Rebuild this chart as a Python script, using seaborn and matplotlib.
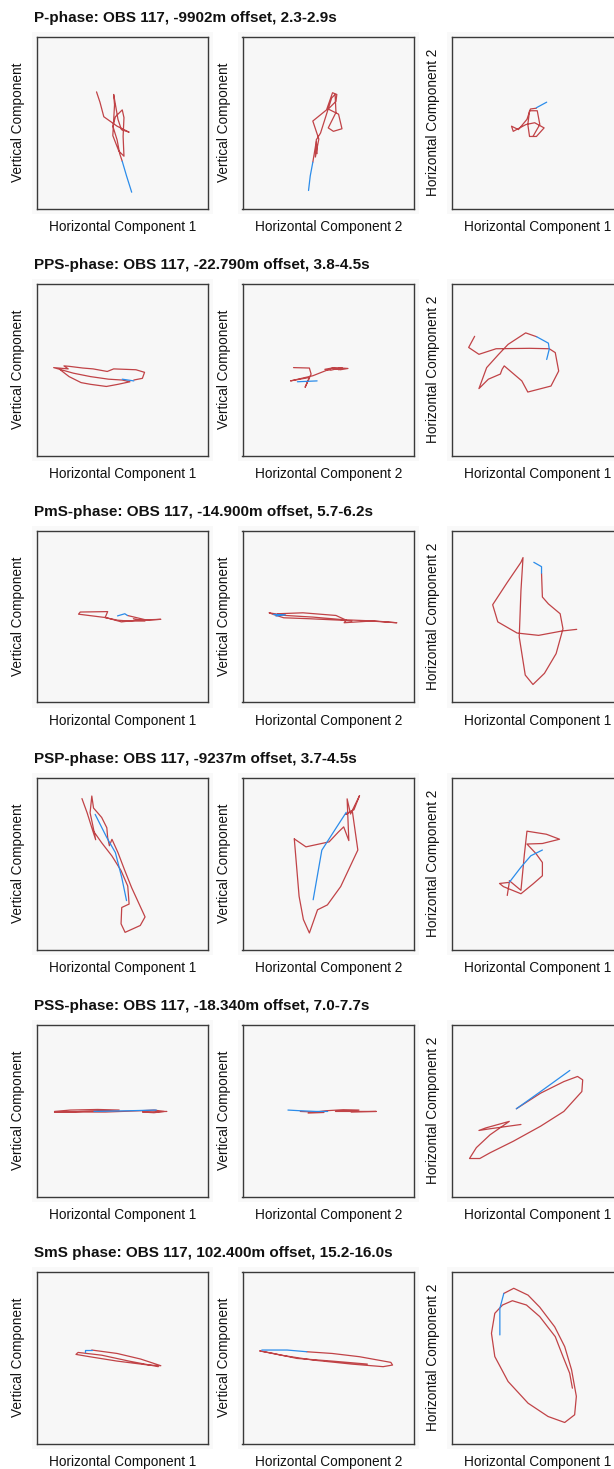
import matplotlib
matplotlib.use("Agg")
import matplotlib.pyplot as plt
import pandas as pd
import seaborn as sns
from matplotlib.patches import Rectangle

# particle motion traces, normalised amplitude (-100..100)
# each panel: red = analysis window, blue = onset segment

# P-phase
p_zh1_red = [(-30, 36), (-26, 24), (-21.5, 7), (-6, -4), (8, -11), (-1, -8), (-5, 4), (-10, 33),
             (-9, 21), (-11, -15), (-4, -33), (2, -39), (1, -16), (2, 6), (0, 15), (-8, 7),
             (-11, -4), (-6, -20), (-3, -36), (0, -45)]
p_zh1_blue = [(0, -45), (5, -62), (11, -81)]
p_zh2_red = [(-18, -46), (-14, -22), (-15, -40), (-11, -19), (-18, 2), (-2, 15), (5, 35), (10, 33),
             (9, 25), (0, 16), (12, 10), (16, -7), (6, -10), (0, -6), (9, 12), (8, 33), (4, 29),
             (-9, -12), (-14, -20), (-13, -36)]
p_zh2_blue = [(-23, -79), (-21, -62), (-18, -46)]
p_h1h2_red = [(-1, 17), (-8, 16), (-12, 4), (-22, -8), (-30, -4), (-28, -10), (-13, -2), (-3, 0),
              (8, -6), (-1, -16), (-9, -16), (-11, -2), (-9, 14), (0, 14), (3, -2), (-5, -16)]
p_h1h2_blue = [(11, 24), (-1, 17.5)]

# PPS-phase
pps_zh1_red = [(13.5, -12), (23.5, -10), (26, -3), (16, 0), (-10, 1), (-17.5, -2), (-34, 1), (-46, 2),
               (-62, 4), (-68, 4.5), (-63, 1), (-80, 2.5), (-57, -4), (-37, -8), (-16, -11), (0, -12),
               (9, -14), (-5, -17), (-18.5, -19.5), (-37, -17), (-48, -15), (-62, -8), (-73, 0.5)]
pps_zh1_blue = [(0, -11), (6.6, -12), (13.5, -13)]
pps_zh2_red = [(-40.5, 2.5), (-22, 2), (-20, -5), (-27, -20.5), (-22, -9), (-44, -13), (-18, -7),
               (-4, -1.5), (5, 2), (14, 0), (23, 1.5), (7, 2.5), (-4, 0.5), (3, -0.5), (16, 2.5), (12, 0)]
pps_zh2_blue = [(-36, -14), (-13, -13)]
pps_h1h2_red = [(-73, 39), (-80, 26), (-68, 18), (-48, 24.5), (-9, 25), (14, 24.5), (21, 20), (25, -1.5),
                (16, -19), (-11, -26), (-18, -13), (-38.5, 4.5), (-41, 0.5), (-43, -5), (-57, -11),
                (-68, -22), (-59, 2.5), (-45, 18), (-34, 29.6), (-13.5, 43), (-0.7, 38.5)]
pps_h1h2_blue = [(-0.7, 38.5), (13, 31), (14, 24), (11, 12)]

# PmS-phase
pms_zh1_red = [(6, 1.5), (29, -4), (45, -3), (17, -4), (-1, -6), (-19, -1), (-51, 3), (-49, 5.5),
               (-17, 6), (-20, -1), (-5.5, -4), (8, -5), (26.5, -5), (13, -2.3)]
pms_zh1_blue = [(-5.5, 1), (3, 3.5), (6, 1.5)]
pms_zh2_red = [(-59, 3.5), (-29.5, 4.6), (9, 1.5), (21, -4), (18.5, -7), (50, -5), (80, -7), (55, -5),
               (18.5, -3.5), (-18, -0.4), (-50, 1.5), (-69, 4.6), (-64, 2.7), (-52, -1.2), (-22.5, -2.3),
               (14, -4), (27.5, -5)]
pms_zh2_blue = [(-64, 2.7), (-50, 2.3), (-61, 0.8)]
pms_h1h2_red = [(5, 50.7), (6, 23), (13, 15), (26.7, 3.5), (30, -14), (22, -43), (8.4, -66), (-5, -79),
                (-14, -68), (-21, -23.6), (-19, 30.6), (-16.6, 69), (-19, 63.5), (-35, 40), (-52, 14),
                (-46, -6), (-23.5, -19), (1.6, -21.7), (29, -16.6), (46, -14.7)]
pms_h1h2_blue = [(-4, 63.5), (5, 58.4), (5, 50.7)]

# PSP-phase
psp_zh1_red = [(-47, 76), (-41, 59.5), (-35.5, 42), (-31, 28), (-34, 43), (-37.5, 59.5), (-35.5, 79),
               (-33.5, 65), (-24, 54), (-18, 42), (-17, 30.5), (-15, 21), (-12, 28.5), (-5, 13), (3, -8),
               (11, -28), (26.6, -62), (21, -72), (3.3, -80), (-1.4, -70), (-0.6, -51), (8, -47),
               (6.4, -26), (-1.4, -8), (-12, 9), (-24, 24.5), (-33.5, 38)]
psp_zh1_blue = [(-31.6, 57.6), (-18, 30.5), (-8, 13), (-0.6, -16), (5, -43)]
psp_zh2_red = [(-39.6, 29), (-26, 19.7), (1, 25.5), (11.8, 37), (18, 43), (24, 27), (22, 75.7), (26, 58),
               (36.5, 79.5), (30, 63), (20, 57.5), (28, 62), (34.5, 16), (14.5, -26.6), (-1, -48),
               (-12.5, -53.7), (-22, -80.7), (-29, -65), (-34, -38), (-39.6, 29)]
psp_zh2_blue = [(-17.6, -42), (-7.5, 15.8), (8.7, 41), (21, 60)]
psp_h1h2_red = [(-35, -37), (-32.6, -21.7), (-44, -23), (-39.4, -26.7), (-19, -35), (-5, -23.6), (6, -14),
                (6, 1.5), (-1.6, 12), (-12, 23), (6, 23.6), (26, 28.6), (10.7, 34.4), (-12, 38), (-15, 11),
                (-19, -31), (-32.6, -19.7)]
psp_h1h2_blue = [(-32.6, -21.7), (-19, -4), (-7.5, 9.3), (6, 16)]

# PSS-phase
pss_zh1_red = [(-79, -0.8), (-60.6, 0.8), (-28.7, 1.5), (-3.6, 0.8), (-28.7, 0), (-63, -1.5), (-79, -1.5),
               (-19.6, -1.5), (21.4, 0), (37, 0.8), (49, -0.8), (37, -2.3), (23.7, -1.5), (52, -0.8)]
pss_zh1_blue = [(-33, -0.8), (7.8, 0), (39.7, 0.8)]
pss_zh2_red = [(-32.6, -0.8), (-5, -2), (-23.5, -2.7), (-3, 0), (17.6, 1.2), (35.8, 0.8), (8.4, -0.8),
               (56, -0.8), (26.7, -1.5)]
pss_zh2_blue = [(-47, 0.8), (-32.6, 0), (-14.4, -0.8), (-0.7, -0.8)]
pss_h1h2_red = [(-24.4, 2.3), (3.9, 20.5), (31, 34), (47, 40), (53, 36), (52, 22.4), (31, -0.8), (3.9, -18),
                (-28, -35.6), (-55, -49), (-67, -55.7), (-79, -55.7), (-71, -43), (-55, -28), (-32.6, -12.4),
                (-60, -20), (-68, -23), (-55, -21), (-19, -16)]
pss_h1h2_blue = [(38, 47), (3.9, 22.4), (-24.4, 2.3)]

# SmS phase
sms_zh1_red = [(-35.6, 9), (-6, 5), (21.4, -1.5), (45, -9.3), (30.5, -8.5), (-6, -3.9), (-38, 1.2),
               (-54, 3.9), (-51.5, 6.2), (-24, 3), (7.8, -3.9), (42, -10.4)]
sms_zh1_blue = [(-43, 6.2), (-43, 9), (-35.6, 9)]
sms_zh2_red = [(-25, 7), (4.6, 5), (36.5, 1.2), (73, -5.4), (75, -8.5), (64, -10.4), (27.4, -7.4),
               (-18, -2.7), (-55, 3), (-80, 8), (-64, 5), (-36.5, -0.8), (4.6, -3.9), (45.6, -7.4)]
sms_zh2_blue = [(-77.5, 9), (-48, 9), (-25, 7)]
sms_h1h2_red = [(-39, 75), (-27.4, 81), (-10.7, 73), (2.9, 59), (20.4, 36), (32, 13), (40, -14),
                (45.6, -45), (43.6, -66.5), (32, -75.5), (12.6, -68.5), (-10.7, -53), (-34, -27.7),
                (-49.5, 1.4), (-53.4, 28.5), (-49.5, 51.8), (-40.5, 61.5), (-29, 66.5), (-12.6, 61.5),
                (2.9, 48), (21, 24.6), (30, 1.4), (37.8, -18), (41, -35.5)]
sms_h1h2_blue = [(-43.6, 26.6), (-43.6, 57.6), (-39, 75)]

titles = [
    "P-phase: OBS 117, -9902m offset, 2.3-2.9s",
    "PPS-phase: OBS 117, -22.790m offset, 3.8-4.5s",
    "PmS-phase: OBS 117, -14.900m offset, 5.7-6.2s",
    "PSP-phase: OBS 117, -9237m offset, 3.7-4.5s",
    "PSS-phase: OBS 117, -18.340m offset, 7.0-7.7s",
    "SmS phase: OBS 117, 102.400m offset, 15.2-16.0s",
]
rows = [
    [(p_zh1_red, p_zh1_blue), (p_zh2_red, p_zh2_blue), (p_h1h2_red, p_h1h2_blue)],
    [(pps_zh1_red, pps_zh1_blue), (pps_zh2_red, pps_zh2_blue), (pps_h1h2_red, pps_h1h2_blue)],
    [(pms_zh1_red, pms_zh1_blue), (pms_zh2_red, pms_zh2_blue), (pms_h1h2_red, pms_h1h2_blue)],
    [(psp_zh1_red, psp_zh1_blue), (psp_zh2_red, psp_zh2_blue), (psp_h1h2_red, psp_h1h2_blue)],
    [(pss_zh1_red, pss_zh1_blue), (pss_zh2_red, pss_zh2_blue), (pss_h1h2_red, pss_h1h2_blue)],
    [(sms_zh1_red, sms_zh1_blue), (sms_zh2_red, sms_zh2_blue), (sms_h1h2_red, sms_h1h2_blue)],
]
xlabels = ["Horizontal Component 1", "Horizontal Component 2", "Horizontal Component 1"]
ylabels = ["Vertical Component", "Vertical Component", "Horizontal Component 2"]

sns.set_theme(style="white")
plt.rcParams["font.family"] = ["Liberation Sans", "DejaVu Sans"]
plt.rcParams["text.color"] = "#111111"
plt.rcParams["axes.labelcolor"] = "#111111"

W, H = 614, 1469
fig = plt.figure(figsize=(W / 100, H / 100), dpi=100)
fig.patch.set_facecolor("white")

lefts = [36.5, 242.5, 451.5]
size = 171.5
row_step = 247

for r, (title, panels) in enumerate(zip(titles, rows)):
    top = 37 + r * row_step
    fig.text(34 / W, 1 - (top - 19) / H, title, fontsize=11, fontweight="bold",
             ha="left", va="center")
    for c, (red, blue) in enumerate(panels):
        left = lefts[c]
        # faint halo behind each panel
        halo = Rectangle(((left - 5) / W, 1 - (top + size + 5) / H),
                         (size + 10) / W, (size + 10) / H,
                         transform=fig.transFigure, facecolor="#f9f9f9",
                         edgecolor="none", zorder=-5)
        fig.add_artist(halo)
        ax = fig.add_axes([left / W, 1 - (top + size) / H, size / W, size / H])
        ax.set_zorder(2)
        ax.set_facecolor("#f7f7f7")
        red_df = pd.DataFrame(red, columns=["x", "y"])
        blue_df = pd.DataFrame(blue, columns=["x", "y"])
        sns.lineplot(data=red_df, x="x", y="y", sort=False, estimator=None, ax=ax,
                     color="#b3161b", linewidth=0.9, alpha=0.8)
        sns.lineplot(data=blue_df, x="x", y="y", sort=False, estimator=None, ax=ax,
                     color="#2b8cea", linewidth=0.9)
        ax.set_xlim(-100, 100)
        ax.set_ylim(-100, 100)
        ax.set_xticks([])
        ax.set_yticks([])
        ax.set_xlabel(xlabels[c], fontsize=9.8, labelpad=8.5)
        ax.set_ylabel(ylabels[c], fontsize=9.8, labelpad=8)
        for sp in ax.spines.values():
            sp.set_visible(True)
            sp.set_color("#3a3a3a")
            sp.set_linewidth(1.0)

fig.savefig("out.png", dpi=100)
